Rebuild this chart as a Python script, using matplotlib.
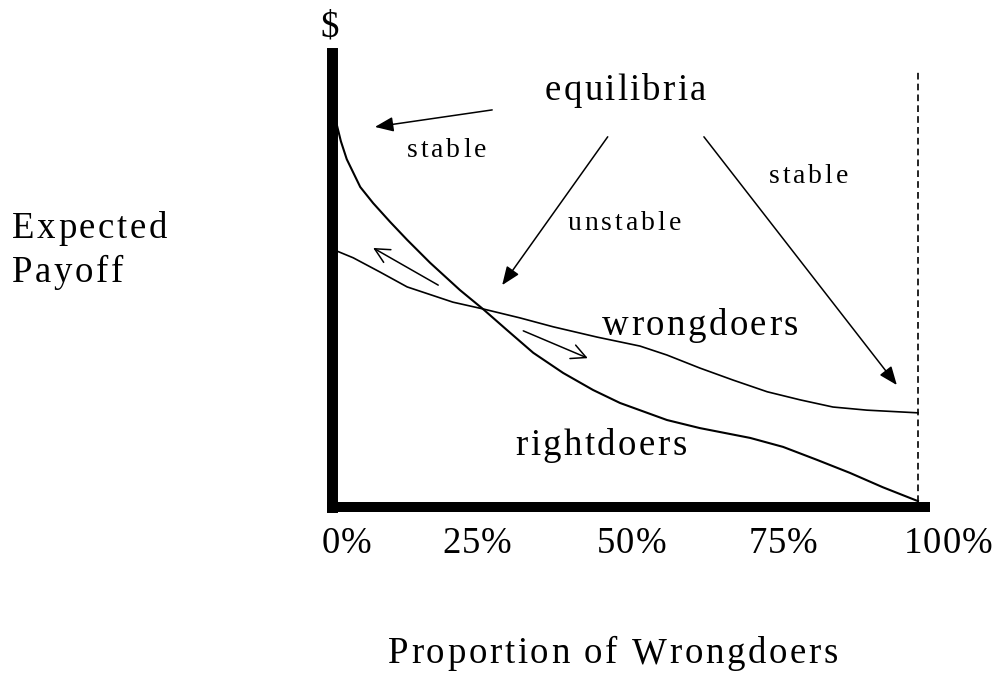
# Payoff curves: wrongdoers vs rightdoers
import matplotlib
matplotlib.use("Agg")
import matplotlib.pyplot as plt
from matplotlib.font_manager import FontProperties, findfont, get_font

# proportion of wrongdoers (%) and expected payoff
rightdoers_x = [0, 0.9, 1.6, 2.6, 4.9, 7.1, 10.0, 12.9, 16.8, 21.9, 25.8, 29.9, 34.4,
                39.5, 44.6, 49.2, 57.2, 62.8, 71.4, 77.0, 82.8, 88.4, 94.0, 100]
rightdoers_y = [87.0, 84.2, 80.5, 76.5, 70.3, 66.7, 62.5, 58.5, 53.4, 47.3, 43.1, 38.4, 33.3,
                28.8, 25.0, 22.1, 18.3, 16.5, 14.3, 12.3, 9.4, 6.5, 3.3, 0.2]

wrongdoers_x = [0, 3.7, 8.3, 12.9, 20.7, 25.8, 32.1, 37.8, 45.3, 52.6, 57.2,
                62.8, 68.5, 74.3, 79.9, 85.5, 91.3, 100]
wrongdoers_y = [56.5, 54.5, 51.3, 48.0, 44.6, 43.1, 41.1, 39.1, 36.8, 34.8, 32.8,
                29.9, 27.2, 24.6, 22.8, 21.2, 20.5, 19.9]

tick_labels = ["0%", "25%", "50%", "75%", "100%"]
tick_pos = [2.5, 24.8, 51.1, 77.0, 105.1]

# (tail, head) of the annotation arrows
filled_arrows = [((27.4, 87.5), (7.4, 83.7)),
                 ((47.1, 81.5), (29.1, 48.4)),
                 ((63.5, 81.5), (96.4, 26.1))]
open_arrows = [((18.2, 48.4), (7.1, 56.7)),
               ((32.7, 38.2), (43.7, 32.1))]

W, H, DPI = 997, 673, 100
SERIF = "Liberation Serif"
BIG, SMALL = 26.5, 20

fig = plt.figure(figsize=(W / DPI, H / DPI), dpi=DPI)
ax = fig.add_axes([331.5 / W, (H - 506.5) / H, (925 - 331.5) / W, (506.5 - 53) / H])
ax.set_xlim(0, 101.2)
ax.set_ylim(-1, 100.2)
ax.set_xticks([])
ax.set_yticks([])
for s in ["top", "right"]:
    ax.spines[s].set_visible(False)
ax.spines["left"].set_linewidth(7.9)
ax.spines["bottom"].set_linewidth(7.2)
ax.spines["bottom"].set_capstyle("projecting")

ax.plot(rightdoers_x, rightdoers_y, color="black", lw=1.5)
ax.plot(wrongdoers_x, wrongdoers_y, color="black", lw=1.2)
ax.vlines(100, 0, 96, colors="black", linestyles=(0, (4, 2.5)), lw=1.2)

for tail, head in filled_arrows:
    ax.annotate("", xy=head, xytext=tail,
                arrowprops=dict(arrowstyle="-|>,head_length=0.45,head_width=0.18",
                                mutation_scale=25, lw=1.1, color="black",
                                shrinkA=0, shrinkB=0))
for tail, head in open_arrows:
    ax.annotate("", xy=head, xytext=tail,
                arrowprops=dict(arrowstyle="->,head_length=0.7,head_width=0.35",
                                mutation_scale=15, lw=1.1, color="black",
                                shrinkA=0, shrinkB=0))


def advances(s, size):
    font = get_font(findfont(FontProperties(family=SERIF)))
    font.set_size(size, DPI)
    return [font.load_char(ord(c)).linearHoriAdvance / 65536 for c in s]


def spaced(x, y, s, size, gap, ha="left", trans=None):
    # letter-spaced text, placed char by char (gap in pixels)
    px, py = trans.transform((x, y)) if trans is not None else (x, y)
    adv = advances(s, size)
    total = sum(adv) + gap * (len(s) - 1)
    if ha == "center":
        px -= total / 2
    for c, a in zip(s, adv):
        fig.text(px / W, py / H, c, fontsize=size, family=SERIF,
                 ha="left", va="baseline")
        px += a + gap


spaced(36.4, 89.7, "equilibria", BIG, 2.2, trans=ax.transData)
spaced(12.9, 77.0, "stable", SMALL, 2.8, trans=ax.transData)
spaced(40.2, 60.7, "unstable", SMALL, 3.0, trans=ax.transData)
spaced(74.6, 71.2, "stable", SMALL, 2.8, trans=ax.transData)
spaced(46.1, 37.3, "wrongdoers", BIG, 2.5, trans=ax.transData)
spaced(31.3, 10.5, "rightdoers", BIG, 2.5, trans=ax.transData)

for lab, xp in zip(tick_labels, tick_pos):
    spaced(xp, -11.4, lab, BIG, 1.0, ha="center", trans=ax.transData)

ax.text(-0.3, 106.0, "$", fontsize=BIG, family=SERIF, ha="center", va="center",
        clip_on=False)

spaced(12, H - 238, "Expected", BIG, 2.6)
spaced(12, H - 282, "Payoff", BIG, 2.6)
spaced(388, H - 663, "Proportion of Wrongdoers", BIG, 2.7)

fig.savefig("out.png", dpi=DPI)
